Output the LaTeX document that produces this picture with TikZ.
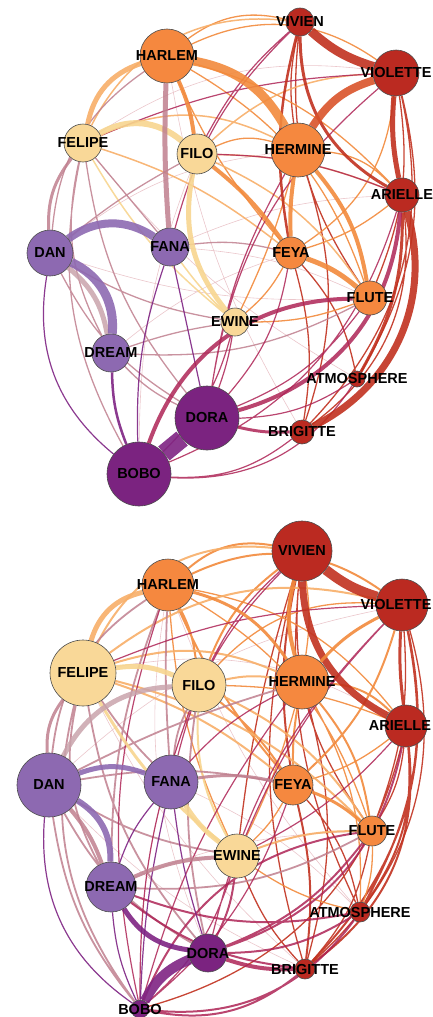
\documentclass[tikz,border=0pt]{standalone}
\usepackage{fontspec}
\setsansfont{Liberation Sans}
\usetikzlibrary{backgrounds}
\definecolor{nodered}{HTML}{BB2A21}
\definecolor{nodeorange}{HTML}{F5883F}
\definecolor{nodeyellow}{HTML}{F9D898}
\definecolor{nodelilac}{HTML}{8D69B1}
\definecolor{nodeplum}{HTML}{7B2380}
\definecolor{tiered}{HTML}{C1311F}
\definecolor{tieredorange}{HTML}{D9532A}
\definecolor{tieorange}{HTML}{F28A3C}
\definecolor{tiepale}{HTML}{F7AE68}
\definecolor{tieyellow}{HTML}{F7D58F}
\definecolor{tiemauve}{HTML}{BF7F8E}
\definecolor{tiemauvelight}{HTML}{C9A3AB}
\definecolor{tiecrimson}{HTML}{AE2456}
\definecolor{tieplum}{HTML}{7E2383}
\definecolor{tielilac}{HTML}{8D69B1}
\definecolor{tierose}{HTML}{E2AEB5}

\begin{document}
\begin{tikzpicture}[
  x=1pt, y=-1pt,
  person/.style 2 args={
    circle, draw=black!70, line width=0.6pt, fill=#2, minimum size=#1, inner sep=0pt
  },
  every label/.style={font=\sffamily\bfseries\fontsize{14.5}{15}\selectfont, text=black, inner sep=0pt},
  redtie/.style={draw=tiered, line width=#1, draw opacity=0.9}, redtie/.default=1.3pt,
  orangetie/.style={draw=tieorange, line width=#1, draw opacity=0.9}, orangetie/.default=1.3pt,
  paletie/.style={draw=tiepale, line width=#1, draw opacity=0.9}, paletie/.default=1.5pt,
  yellowtie/.style={draw=tieyellow, line width=#1, draw opacity=0.9}, yellowtie/.default=1.5pt,
  mauvetie/.style={draw=tiemauve, line width=#1, draw opacity=0.85}, mauvetie/.default=1.3pt,
  crimsontie/.style={draw=tiecrimson, line width=#1, draw opacity=0.85}, crimsontie/.default=1.2pt,
  plumtie/.style={draw=tieplum, line width=#1, draw opacity=0.9}, plumtie/.default=1.2pt,
  lilactie/.style={draw=tielilac, line width=#1, draw opacity=0.9}, lilactie/.default=1.2pt,
  faint/.style={draw=tierose, line width=0.6pt, draw opacity=0.7}
]
  \useasboundingbox (0,0) rectangle (433,1017);

  % Panel 1: characters (top)
  \node[person={28pt}{nodered}, label=center:VIVIEN] (vivienA) at (300,22) {};
  \node[person={54pt}{nodeorange}, label=center:HARLEM] (harlemA) at (167,56) {};
  \node[person={46pt}{nodered}, label=center:VIOLETTE] (violetteA) at (396,73) {};
  \node[person={38pt}{nodeyellow}, label=center:FELIPE] (felipeA) at (83,143) {};
  \node[person={40pt}{nodeyellow}, label=center:FILO] (filoA) at (197,154) {};
  \node[person={54pt}{nodeorange}, label=center:HERMINE] (hermineA) at (298,150) {};
  \node[person={34pt}{nodered}, label=center:ARIELLE] (arielleA) at (402,195) {};
  \node[person={46pt}{nodelilac}, label=center:DAN] (danA) at (50,253) {};
  \node[person={38pt}{nodelilac}, label=center:FANA] (fanaA) at (170,247) {};
  \node[person={32pt}{nodeorange}, label=center:FEYA] (feyaA) at (291,253) {};
  \node[person={34pt}{nodeorange}, label=center:FLUTE] (fluteA) at (370,298) {};
  \node[person={28pt}{nodeyellow}, label=center:EWINE] (ewineA) at (235,322) {};
  \node[person={38pt}{nodelilac}, label=center:DREAM] (dreamA) at (111,353) {};
  \node[person={16pt}{nodered}, label=center:ATMOSPHERE] (atmosA) at (357,379) {};
  \node[person={64pt}{nodeplum}, label=center:DORA] (doraA) at (207,418) {};
  \node[person={24pt}{nodered}, label=center:BRIGITTE] (brigitteA) at (302,432) {};
  \node[person={64pt}{nodeplum}, label=center:BOBO] (boboA) at (139,474) {};

  % Panel 2: characters (bottom)
  \node[person={60pt}{nodered}, label=center:VIVIEN] (vivienB) at (302,551) {};
  \node[person={52pt}{nodeorange}, label=center:HARLEM] (harlemB) at (168,585) {};
  \node[person={52pt}{nodered}, label={[xshift=-6pt]center:VIOLETTE}] (violetteB) at (402,605) {};
  \node[person={66pt}{nodeyellow}, label=center:FELIPE] (felipeB) at (83,673) {};
  \node[person={54pt}{nodeyellow}, label=center:FILO] (filoB) at (199,685) {};
  \node[person={54pt}{nodeorange}, label=center:HERMINE] (hermineB) at (302,682) {};
  \node[person={42pt}{nodered}, label={[xshift=-6pt]center:ARIELLE}] (arielleB) at (406,726) {};
  \node[person={64pt}{nodelilac}, label=center:DAN] (danB) at (49,785) {};
  \node[person={54pt}{nodelilac}, label=center:FANA] (fanaB) at (171,782) {};
  \node[person={40pt}{nodeorange}, label=center:FEYA] (feyaB) at (293,785) {};
  \node[person={30pt}{nodeorange}, label=center:FLUTE] (fluteB) at (372,831) {};
  \node[person={44pt}{nodeyellow}, label=center:EWINE] (ewineB) at (237,856) {};
  \node[person={50pt}{nodelilac}, label=center:DREAM] (dreamB) at (111,887) {};
  \node[person={20pt}{nodered}, label=center:ATMOSPHERE] (atmosB) at (360,912) {};
  \node[person={38pt}{nodeplum}, label=center:DORA] (doraB) at (208,953) {};
  \node[person={20pt}{nodered}, label=center:BRIGITTE] (brigitteB) at (305,969) {};
  \node[person={18pt}{nodeplum}, label=center:BOBO] (boboB) at (140,1009) {};

  \begin{scope}[on background layer]
    % Panel 1: thin ties
    \draw[faint] (felipeA) to[bend left=20] (violetteA) (danA) to[bend left=15] (hermineA) (fanaA) to[bend left=10] (fluteA)
      (dreamA) to[bend left=10] (feyaA) (felipeA) to[bend right=10] (atmosA) (harlemA) to[bend right=10] (brigitteA)
      (danA) to[bend right=10] (fluteA) (fanaA) to[bend left=10] (arielleA) (filoA) to[bend right=10] (boboA);
    \draw[redtie] (vivienA) to[bend right=20] (fluteA) (violetteA) to[bend left=15] (fluteA) (violetteA) to[bend left=22] (atmosA)
      (violetteA) to[bend left=28] (brigitteA) (feyaA) to[bend left=12] (brigitteA) (feyaA) to[bend left=15] (atmosA)
      (hermineA) to[bend left=18] (brigitteA) (vivienA) to[bend right=10] (hermineA) (arielleA) to[bend left=30] (brigitteA);
    \draw[orangetie] (harlemA) to[bend left=25] (vivienA) (harlemA) to[bend left=30] (violetteA) (filoA) to[bend left=20] (hermineA)
      (harlemA) to[bend right=8] (feyaA) (harlemA) to[bend left=20] (fluteA) (hermineA) to[bend left=5] (ewineA)
      (fluteA) to[bend left=10] (ewineA) (feyaA) to[bend left=10] (ewineA) (hermineA) to[bend left=20] (arielleA)
      (harlemA) to[bend left=15] (arielleA) (violetteA) to[bend left=25] (feyaA) (arielleA) to[bend left=10] (feyaA);
    \draw[paletie] (felipeA) to[bend left=25] (hermineA) (filoA) to[bend left=15] (fluteA) (felipeA) to[bend left=10] (feyaA)
      (felipeA) to[bend left=35] (vivienA) (filoA) to[bend left=10] (arielleA) (filoA) to[bend left=20] (violetteA);
    \draw[yellowtie] (felipeA) to[bend right=10] (ewineA) (fanaA) to[bend right=5] (ewineA);
    \draw[mauvetie] (dreamA) to[bend left=20] (felipeA) (boboA) to[bend left=20] (felipeA) (felipeA) to (fanaA)
      (danA) to[bend left=25] (harlemA) (fanaA) to[bend left=10] (feyaA) (fluteA) to[bend left=15] (dreamA)
      (danA) to[bend right=10] (ewineA) (dreamA) to[bend right=10] (doraA) (danA) to[bend left=5] (filoA)
      (felipeA) to[bend right=15] (doraA) (dreamA) to[bend left=5] (ewineA) (danA) to[bend right=15] (doraA);
    \draw[crimsontie] (brigitteA) to[bend left=20] (boboA) (atmosA) to[bend left=30] (boboA) (atmosA) to[bend left=15] (doraA)
      (fluteA) to[bend left=15] (doraA) (violetteA) to[bend right=10] (felipeA) (vivienA) to[bend right=10] (filoA)
      (vivienA) to[bend right=15] (fanaA) (arielleA) to[bend right=10] (filoA) (ewineA) to[bend left=15] (boboA)
      (ewineA) to[bend left=5] (doraA) (violetteA) to[bend right=20] (doraA) (arielleA) to[bend left=25] (boboA)
      (feyaA) to[bend left=15] (doraA) (hermineA) to[bend right=10] (doraA);
    \draw[plumtie] (boboA) to[bend left=30] (danA) (fanaA) to[bend right=10] (boboA) (fanaA) to (doraA);

    % Panel 1: strong ties
    \draw[redtie=9pt] (vivienA) to[bend right=12] (violetteA);
    \draw[redtie=5pt] (violetteA) to[bend right=8] (arielleA);
    \draw[redtie=7pt] (arielleA) to[bend left=40] (brigitteA);
    \draw[redtie=3pt] (vivienA) to[bend right=30] (arielleA) (arielleA) to[bend left=15] (atmosA);
    \draw[redtie=2.5pt] (vivienA) to[bend right=12] (feyaA);
    \draw[orangetie=9pt] (harlemA) to[bend left=25] (hermineA);
    \draw[orangetie=8pt, draw=tieredorange] (hermineA) to[bend left=20] (violetteA);
    \draw[orangetie=5pt] (feyaA) to[bend left=10] (fluteA);
    \draw[orangetie=4pt] (hermineA) to[bend left=15] (fluteA) (filoA) to[bend left=8] (feyaA)
      (harlemA) to[bend left=8] (filoA) (hermineA) to[bend right=5] (feyaA);
    \draw[paletie=5pt] (felipeA) to[bend left=30] (harlemA);
    \draw[yellowtie=6pt] (felipeA) to[bend left=35] (filoA);
    \draw[yellowtie=5pt] (filoA) to[bend right=25] (ewineA);
    \draw[mauvetie=5pt, draw=tiemauvelight] (danA) to[bend left=20] (dreamA);
    \draw[mauvetie=5pt] (harlemA) to[bend right=3] (fanaA);
    \draw[mauvetie=3pt] (danA) to[bend left=20] (felipeA);
    \draw[crimsontie=4pt] (arielleA) to[bend left=35] (doraA) (boboA) to[bend left=35] (fluteA);
    \draw[crimsontie=3pt] (brigitteA) to[bend left=8] (doraA);
    \draw[lilactie=8pt] (danA) to[bend left=35] (fanaA);
    \draw[lilactie=9pt] (danA) to[bend left=35] (dreamA);
    \draw[plumtie=2.5pt] (boboA) to[bend left=10] (dreamA);
    \draw[plumtie=18pt] (boboA) to (doraA);

    % Panel 2: thin ties
    \draw[faint] (felipeB) to[bend left=20] (arielleB) (danB) to[bend left=15] (violetteB) (fanaB) to[bend left=10] (atmosB)
      (dreamB) to[bend left=10] (fluteB) (felipeB) to[bend right=10] (brigitteB) (harlemB) to[bend right=10] (atmosB)
      (danB) to[bend right=10] (brigitteB) (filoB) to[bend right=10] (boboB) (harlemB) to[bend right=15] (doraB);
    \draw[redtie] (vivienB) to[bend right=20] (fluteB) (violetteB) to[bend left=12] (fluteB) (arielleB) to[bend left=12] (fluteB)
      (feyaB) to[bend left=15] (atmosB) (hermineB) to[bend left=15] (brigitteB) (vivienB) to[bend right=15] (brigitteB)
      (vivienB) to[bend right=15] (atmosB) (fluteB) to[bend left=15] (brigitteB) (ewineB) to[bend right=10] (brigitteB)
      (arielleB) to[bend left=30] (boboB) (vivienB) to[bend right=5] (ewineB) (violetteB) to[bend left=32] (brigitteB);
    \draw[redtie=2pt] (arielleB) to[bend left=30] (brigitteB) (arielleB) to[bend left=20] (atmosB) (violetteB) to[bend left=20] (atmosB)
      (violetteB) to[bend left=28] (brigitteB) (vivienB) to[bend right=10] (feyaB) (feyaB) to[bend left=10] (brigitteB);
    \draw[orangetie=2pt] (harlemB) to[bend left=25] (vivienB) (harlemB) to[bend left=30] (violetteB) (hermineB) to[bend left=15] (fluteB)
      (filoB) to[bend left=8] (feyaB) (harlemB) to[bend right=8] (feyaB) (hermineB) to[bend right=5] (feyaB)
      (filoB) to[bend left=15] (vivienB) (hermineB) to[bend left=20] (arielleB) (violetteB) to[bend left=15] (feyaB)
      (harlemB) to[bend left=10] (filoB);
    \draw[orangetie] (filoB) to[bend left=10] (arielleB) (arielleB) to[bend left=10] (feyaB) (feyaB) to[bend left=8] (ewineB)
      (fluteB) to[bend left=10] (atmosB) (atmosB) to[bend left=10] (ewineB) (harlemB) to[bend right=10] (ewineB)
      (hermineB) to[bend left=5] (ewineB) (hermineB) to[bend left=15] (atmosB) (harlemB) to[bend left=20] (fluteB)
      (harlemB) to[bend left=20] (arielleB) (filoB) to[bend left=25] (violetteB) (vivienB) to[bend left=8] (hermineB);
    \draw[paletie=2pt] (felipeB) to[bend left=35] (vivienB) (felipeB) to[bend left=20] (hermineB) (fluteB) to[bend right=10] (ewineB)
      (filoB) to[bend left=15] (fluteB) (felipeB) to[bend left=10] (feyaB) (felipeB) to[bend left=15] (fluteB)
      (felipeB) to[bend left=25] (violetteB) (filoB) to[bend left=10] (hermineB);
    \draw[yellowtie=2pt] (filoB) to[bend right=15] (ewineB);
    \draw[mauvetie=1.8pt] (dreamB) to[bend left=20] (felipeB) (felipeB) to[bend right=5] (fanaB) (danB) to[bend left=25] (harlemB)
      (danB) to[bend right=10] (ewineB) (danB) to[bend left=10] (feyaB) (danB) to[bend right=15] (doraB)
      (harlemB) to[bend right=3] (fanaB) (harlemB) to[bend right=10] (dreamB) (fluteB) to[bend left=15] (dreamB)
      (boboB) to[bend left=25] (felipeB) (felipeB) to[bend right=15] (doraB) (fanaB) to[bend left=10] (filoB)
      (filoB) to[bend right=10] (doraB) (danB) to[bend left=5] (hermineB) (boboB) to[bend left=15] (danB);
    \draw[crimsontie=2pt] (atmosB) to[bend left=15] (doraB) (arielleB) to[bend left=30] (doraB) (boboB) to[bend left=30] (fluteB)
      (atmosB) to[bend left=30] (boboB) (brigitteB) to[bend left=25] (boboB) (atmosB) to[bend left=15] (dreamB)
      (brigitteB) to[bend left=15] (dreamB) (fluteB) to[bend left=15] (doraB) (ewineB) to[bend left=10] (doraB);
    \draw[crimsontie] (vivienB) to[bend right=15] (fanaB) (vivienB) to[bend right=10] (filoB) (violetteB) to[bend right=10] (felipeB)
      (violetteB) to[bend right=10] (ewineB) (violetteB) to[bend right=15] (doraB) (arielleB) to[bend left=10] (ewineB)
      (hermineB) to[bend right=10] (fanaB) (ewineB) to[bend left=15] (boboB) (feyaB) to[bend left=15] (boboB)
      (hermineB) to[bend right=10] (boboB) (boboB) to[bend left=15] (harlemB) (boboB) to[bend left=10] (filoB);
    \draw[plumtie] (boboB) to[bend left=30] (danB) (boboB) to[bend left=10] (dreamB) (fanaB) to[bend right=5] (doraB)
      (fanaB) to[bend right=10] (dreamB) (boboB) to[bend left=5] (fanaB);

    % Panel 2: strong ties
    \draw[redtie=10pt] (vivienB) to[bend right=10] (violetteB);
    \draw[redtie=7pt] (vivienB) to[bend right=30] (arielleB);
    \draw[redtie=3pt] (violetteB) to[bend right=5] (arielleB);
    \draw[orangetie=4pt] (hermineB) to[bend left=15] (vivienB);
    \draw[orangetie=3pt] (harlemB) to[bend left=20] (hermineB) (feyaB) to[bend left=10] (fluteB) (hermineB) to[bend left=10] (violetteB);
    \draw[paletie=5pt] (felipeB) to[bend left=30] (harlemB);
    \draw[yellowtie=5pt] (felipeB) to[bend left=15] (filoB) (fanaB) to[bend right=10] (ewineB);
    \draw[yellowtie=3pt] (felipeB) to[bend right=10] (ewineB);
    \draw[mauvetie=5pt, draw=tiemauvelight] (danB) to[bend left=30] (filoB);
    \draw[mauvetie=4pt] (danB) to[bend left=10] (dreamB) (dreamB) to[bend left=10] (ewineB);
    \draw[mauvetie=3pt] (danB) to[bend left=20] (felipeB) (fanaB) to[bend left=10] (feyaB);
    \draw[crimsontie=4pt] (brigitteB) to[bend left=10] (doraB);
    \draw[lilactie=6pt] (danB) to[bend left=30] (dreamB);
    \draw[lilactie=5pt] (danB) to[bend left=20] (fanaB);
    \draw[plumtie=5pt] (dreamB) to[bend right=25] (doraB);
    \draw[plumtie=10pt] (boboB) to[bend left=20] (doraB);
  \end{scope}
\end{tikzpicture}
\end{document}
